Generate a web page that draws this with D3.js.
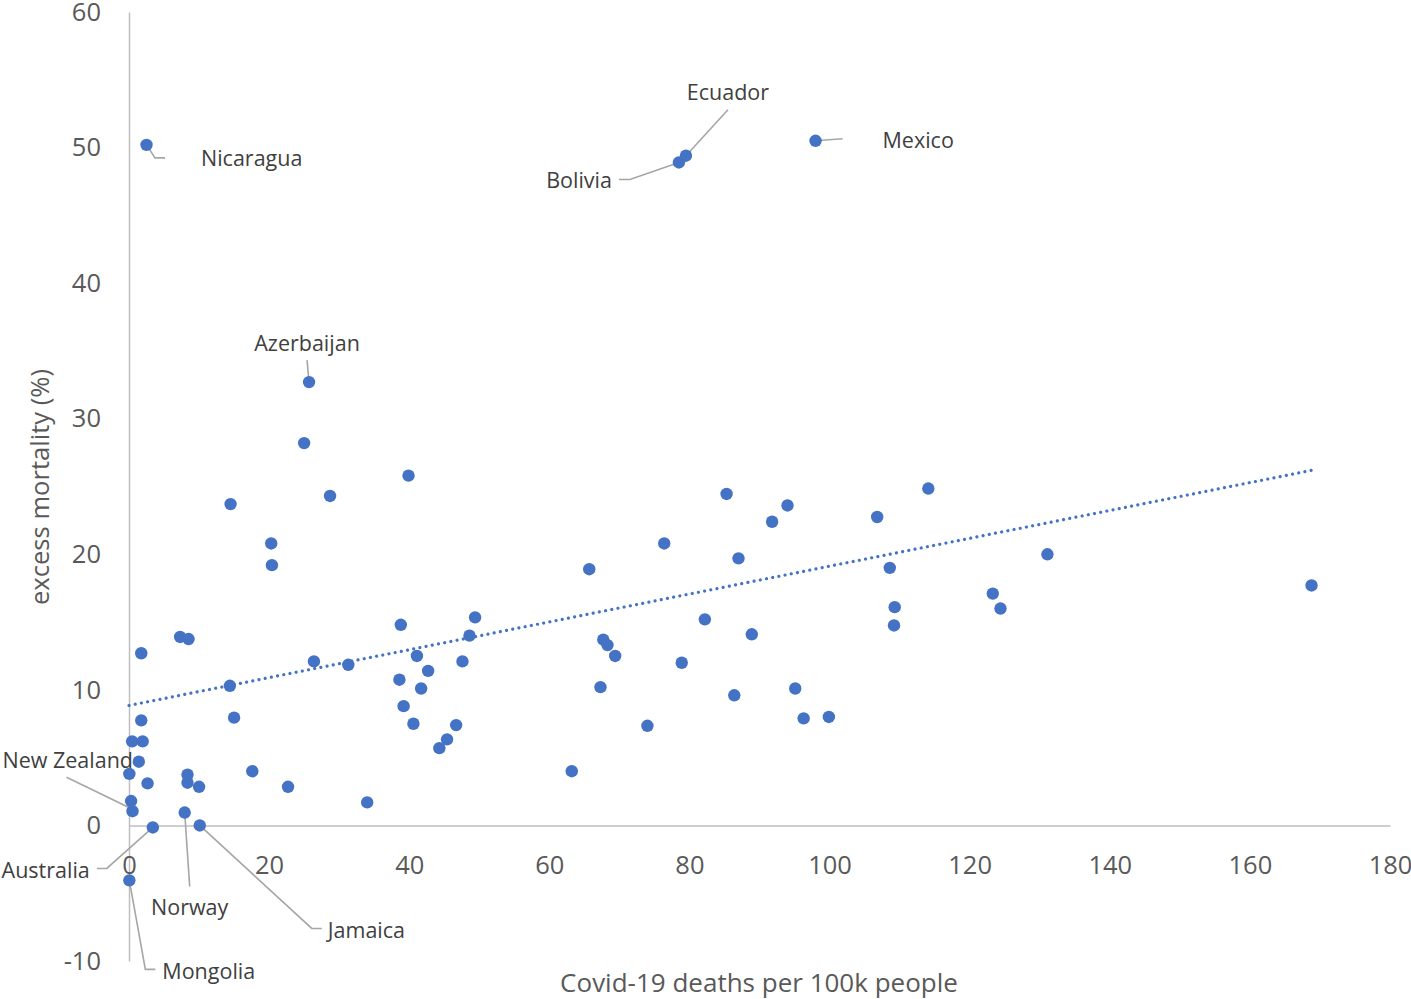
<!DOCTYPE html>
<html>
<head>
<meta charset="utf-8">
<script src="https://cdn.jsdelivr.net/npm/d3@7"></script>
<style>
  html, body { margin: 0; padding: 0; background: #fff; }
  svg { display: block; }
  text { font-family: "Open Sans", "Noto Sans", sans-serif; }
</style>
</head>
<body>
<svg id="chart" width="1411" height="999"></svg>
<script>
// ---- data ----
const countries = [
  "Nicaragua","Bolivia","Ecuador","Mexico","Azerbaijan",
  "New Zealand","Australia","Norway","Jamaica","Mongolia"
];
const deaths = [
  2.5, 78.5, 79.5, 98.0, 25.7,
  0.5, 3.4, 7.95, 10.1, 0.05,
  25.0, 39.9, 28.7, 14.5, 20.3, 20.4, 1.75, 7.3, 8.5, 14.4,
  15.0, 1.75, 0.45, 1.95, 1.4, 0.05, 2.65, 0.3, 8.35, 8.35,
  10.0, 17.6, 22.7, 34.0, 26.4, 31.3, 38.8, 38.6, 39.2, 40.6,
  41.1, 42.7, 41.7, 44.3, 45.4, 46.7, 47.6, 48.6, 49.4, 63.2,
  67.3, 67.7, 68.3, 69.4, 74.0, 78.9, 65.7, 76.4, 85.3, 94.0,
  91.8, 87.0, 106.8, 114.1, 108.6, 109.3, 109.2, 123.3, 124.4, 131.1,
  82.2, 88.9, 86.4, 95.1, 96.3, 99.9, 168.8
];
const excess = [
  50.2, 48.9, 49.4, 50.5, 32.7,
  1.05, -0.15, 0.95, 0.0, -4.05,
  28.2, 25.8, 24.3, 23.7, 20.8, 19.2, 12.7, 13.9, 13.75, 10.3,
  7.95, 7.75, 6.2, 6.2, 4.7, 3.8, 3.1, 1.8, 3.75, 3.15,
  2.85, 4.0, 2.85, 1.7, 12.1, 11.85, 14.8, 10.75, 8.8, 7.5,
  12.5, 11.4, 10.1, 5.7, 6.35, 7.4, 12.1, 14.0, 15.35, 4.0,
  10.2, 13.7, 13.3, 12.5, 7.35, 12.0, 18.9, 20.8, 24.45, 23.6,
  22.4, 19.7, 22.75, 24.85, 19.0, 16.1, 14.75, 17.1, 16.0, 20.0,
  15.2, 14.1, 9.6, 10.1, 7.9, 8.0, 17.7
];
const xTicks = [0, 20, 40, 60, 80, 100, 120, 140, 160, 180];
const yTicks = [-10, 0, 10, 20, 30, 40, 50, 60];
const xTitle = "Covid-19 deaths per 100k people";
const yTitle = "excess mortality (%)";

// ---- label layout (pixel offsets from the point) ----
const labelLayout = {
  "Nicaragua":   { anchor: "start",  dx: 54.5, dy: 14,  leader: [[0,0],[8.5,13],[18.5,13]] },
  "Bolivia":     { anchor: "end",    dx: -67,  dy: 18,  leader: [[0,0],[-49,17],[-60,17]] },
  "Ecuador":     { anchor: "middle", dx: 42,   dy: -63, leader: [[0,0],[42,-46]] },
  "Mexico":      { anchor: "start",  dx: 67,   dy: 0,   leader: [[0,0],[27,-2]] },
  "Azerbaijan":  { anchor: "middle", dx: -2,   dy: -39, leader: [[0,0],[-2,-22]] },
  "New Zealand": { anchor: "end",    dx: 0.5,  dy: -51, leader: [[-2,-3],[-66,-34]] },
  "Australia":   { anchor: "end",    dx: -63,  dy: 43,  leader: [[0,0],[-46,41],[-56,41]] },
  "Norway":      { anchor: "middle", dx: 5,    dy: 95,  leader: [[0,0],[5,74]] },
  "Jamaica":     { anchor: "start",  dx: 128,  dy: 105, leader: [[0,0],[112,103],[122,103]] },
  "Mongolia":    { anchor: "start",  dx: 33,   dy: 91,  leader: [[0,0],[16,89],[26,89]] }
};

const points = deaths.map((d, i) => ({ x: d, y: excess[i], name: countries[i] || null }));

const svg = d3.select("#chart");
const x = d3.scaleLinear().domain([0, 180]).range([129, 1390]);
const y = d3.scaleLinear().domain([-10, 60]).range([961, 12]);

const axisColor = "#BFBFBF";
const tickColor = "#595959";
const fmt = v => String(v); // plain hyphen-minus, as in the reference

// y axis
const gy = svg.append("g").attr("transform", `translate(${x(0)},0)`)
  .call(d3.axisLeft(y).tickValues(yTicks).tickFormat(fmt).tickSize(0).tickPadding(28));
gy.select(".domain").attr("stroke", axisColor).attr("stroke-width", 1.5);
gy.selectAll("text").attr("fill", tickColor).style("font-size", "25.5px")
  .style("font-family", '"Open Sans", sans-serif');

// x axis at y = 0
const gx = svg.append("g").attr("transform", `translate(0,${y(0)})`)
  .call(d3.axisBottom(x).tickValues(xTicks).tickFormat(fmt).tickSize(0).tickPadding(30));
gx.select(".domain").attr("stroke", axisColor).attr("stroke-width", 1.5);
gx.selectAll("text").attr("fill", tickColor).style("font-size", "25.5px")
  .style("font-family", '"Open Sans", sans-serif');

// axis titles
svg.append("text")
  .attr("x", 759).attr("y", 983).attr("dy", "0.35em")
  .attr("text-anchor", "middle").attr("fill", tickColor)
  .style("font-size", "26px").text(xTitle);
svg.append("text")
  .attr("transform", "translate(40,487) rotate(-90)")
  .attr("dy", "0.35em").attr("text-anchor", "middle").attr("fill", tickColor)
  .style("font-size", "25.6px").text(yTitle);

// linear trendline (least squares)
const mx = d3.mean(points, p => p.x), my = d3.mean(points, p => p.y);
const sxy = d3.sum(points, p => (p.x - mx) * (p.y - my));
const sxx = d3.sum(points, p => (p.x - mx) * (p.x - mx));
const slope = sxy / sxx, intercept = my - slope * mx;
const xmax = d3.max(points, p => p.x);
svg.append("line")
  .attr("x1", x(0)).attr("y1", y(intercept))
  .attr("x2", x(xmax)).attr("y2", y(intercept + slope * xmax))
  .attr("stroke", "#4472C4").attr("stroke-width", 3.2)
  .attr("stroke-linecap", "round").attr("stroke-dasharray", "0.01 6.3");

// leader lines
const lineGen = d3.line();
const labeled = points.filter(p => p.name);
svg.append("g").selectAll("path").data(labeled).join("path")
  .attr("d", p => {
    const L = labelLayout[p.name];
    return lineGen(L.leader.map(([a, b]) => [x(p.x) + a, y(p.y) + b]));
  })
  .attr("fill", "none").attr("stroke", "#A6A6A6").attr("stroke-width", 1.6);

// points
svg.append("g").selectAll("circle").data(points).join("circle")
  .attr("cx", p => x(p.x)).attr("cy", p => y(p.y)).attr("r", 6.2)
  .attr("fill", "#4472C4");

// labels
svg.append("g").selectAll("text").data(labeled).join("text")
  .attr("x", p => x(p.x) + labelLayout[p.name].dx)
  .attr("y", p => y(p.y) + labelLayout[p.name].dy)
  .attr("dy", "0.35em")
  .attr("text-anchor", p => labelLayout[p.name].anchor)
  .attr("fill", "#404040").style("font-size", "21.5px")
  .text(p => p.name);
</script>
</body>
</html>
